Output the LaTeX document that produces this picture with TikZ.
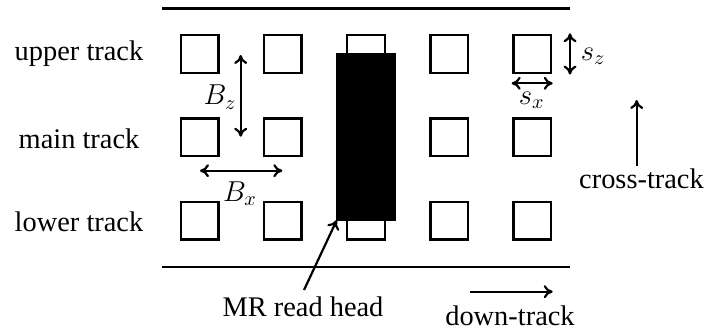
\documentclass[tikz,border=0pt]{standalone}
\usepackage{fontspec}
\setmainfont{Liberation Serif}
\usetikzlibrary{arrows.meta}
\begin{document}
\begin{tikzpicture}[x=0.5pt,y=-0.5pt,
  bit/.style={draw,line width=1.2pt,minimum size=18.8pt,inner sep=0pt,fill=white},
  lbl/.style={font=\fontsize{14.2}{16}\selectfont,inner sep=0pt},
  dim/.style={line width=1.1pt,{To[length=4.5pt,width=6.5pt]}-{To[length=4.5pt,width=6.5pt]}},
  dir/.style={line width=1.1pt,-{To[length=4.5pt,width=6.5pt]}},
  rail/.style={line width=1.15pt}]
\useasboundingbox (0,0) rectangle (709,333);
% rails
\coordinate (tl) at (162,8.5); \coordinate (tr) at (569.5,8.5);
\coordinate (bl) at (162,266.7); \coordinate (br) at (569.5,266.7);
\draw[rail] (tl) -- (tr);
\draw[rail] (bl) -- (br);
% bits
\foreach \i/\x in {1/199.5,2/282.8,3/366,4/449.2,5/532.4}{
  \node[bit] (u\i) at (\x,54) {};
  \node[bit] (m\i) at (\x,137.3) {};
  \node[bit] (l\i) at (\x,220.7) {};
}
% head
\node[fill=black,draw=black,line width=0pt,minimum width=29.3pt,minimum height=83.5pt,inner sep=0pt] (head) at (366,136.8) {};
% track labels
\node[lbl] (ut) at (79,53.3) {upper track};
\node[lbl] (mt) at (79,138.3) {main track};
\node[lbl] (lt) at (79,221.7) {lower track};
% Bz
\coordinate (bz1) at (240.7,55); \coordinate (bz2) at (240.7,136.7);
\draw[dim] (bz1) -- (bz2);
\node[lbl] (bzl) at (220,97) {$B_z$};
% Bx
\coordinate (bx1) at (200,170.7); \coordinate (bx2) at (282.3,170.7);
\draw[dim] (bx1) -- (bx2);
\node[lbl] (bxl) at (240,193.5) {$B_x$};
% sz
\coordinate (sz1) at (570,33.3); \coordinate (sz2) at (570,74.5);
\draw[dim] (sz1) -- (sz2);
\node[lbl] (szl) at (593,56) {$s_z$};
% sx
\coordinate (sx1) at (511.7,83.3); \coordinate (sx2) at (552.7,83.3);
\draw[dim] (sx1) -- (sx2);
\node[lbl] (sxl) at (531.7,100) {$s_x$};
% cross-track
\coordinate (ct1) at (636.7,166); \coordinate (ct2) at (636.7,100);
\draw[dir] (ct1) -- (ct2);
\node[lbl] (ctl) at (641.5,178.3) {cross-track};
% down-track
\coordinate (dt1) at (470,291.7); \coordinate (dt2) at (552.7,291.7);
\draw[dir] (dt1) -- (dt2);
\node[lbl] (dtl) at (510,316) {down-track};
% MR head label
\node[lbl] (mrl) at (303,306.7) {MR read head};
\coordinate (mr1) at (304,290);
\draw[dir] (mr1) -- (head.south west);
\end{tikzpicture}
\end{document}
